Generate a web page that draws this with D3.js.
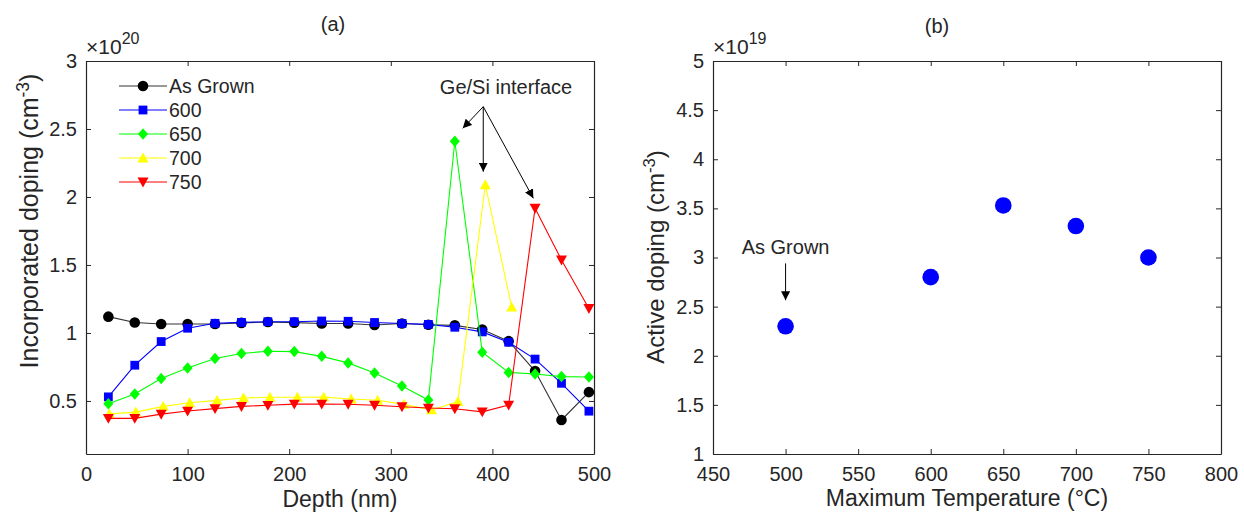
<!DOCTYPE html>
<html>
<head>
<meta charset="utf-8">
<script src="https://cdn.jsdelivr.net/npm/d3@7"></script>
<style>
  body { margin: 0; background: #fff; }
  svg text { font-family: "Liberation Sans", Arial, sans-serif; fill: #262626; }
</style>
</head>
<body>
<svg width="1244" height="514"></svg>
<script>
// Data (a): incorporated doping, units of 1e20 cm^-3
var depth = [22, 48, 74, 100, 127, 153, 179, 205, 232, 258, 284, 311, 337, 363, 390, 416, 442, 468, 495];
var depth700 = [23, 49, 76, 102, 129, 155, 181, 208, 234, 261, 287, 313, 340, 366, 393, 419];
var asGrown = [1.12, 1.077, 1.066, 1.066, 1.066, 1.074, 1.081, 1.076, 1.07, 1.07, 1.059, 1.07, 1.06, 1.056, 1.025, 0.94, 0.72, 0.36, 0.565];
var t600 = [0.53, 0.763, 0.937, 1.035, 1.071, 1.078, 1.083, 1.083, 1.088, 1.086, 1.077, 1.07, 1.063, 1.042, 1.008, 0.932, 0.808, 0.63, 0.425];
var t650 = [0.48, 0.551, 0.665, 0.742, 0.812, 0.849, 0.866, 0.863, 0.828, 0.78, 0.706, 0.61, 0.507, 2.41, 0.859, 0.71, 0.698, 0.679, 0.676];
var t700 = [0.405, 0.418, 0.46, 0.487, 0.504, 0.522, 0.527, 0.527, 0.528, 0.514, 0.505, 0.475, 0.434, 0.495, 2.09, 1.19];
var t750 = [0.372, 0.372, 0.403, 0.426, 0.444, 0.46, 0.468, 0.477, 0.477, 0.476, 0.469, 0.458, 0.448, 0.443, 0.42, 0.47, 1.917, 1.537, 1.18];
var seriesNames = ['As Grown', '600', '650', '700', '750'];
var xTicksA = [0, 100, 200, 300, 400, 500];
var yTicksA = [0.5, 1, 1.5, 2, 2.5, 3];

// Data (b): active doping, units of 1e19 cm^-3
var maxTemp = [500, 600, 650, 700, 750];
var activeDoping = [2.3, 2.8, 3.53, 3.32, 3.0];
var xTicksB = [450, 500, 550, 600, 650, 700, 750, 800];
var yTicksB = [1, 1.5, 2, 2.5, 3, 3.5, 4, 4.5, 5];

var svg = d3.select('svg');
svg.append('rect').attr('width', 1244).attr('height', 514).attr('fill', '#fff');

var defs = svg.append('defs');
defs.append('marker').attr('id', 'arr')
  .attr('viewBox', '0 0 10 10').attr('refX', 10).attr('refY', 5)
  .attr('markerWidth', 9).attr('markerHeight', 9).attr('markerUnits', 'userSpaceOnUse')
  .attr('orient', 'auto')
  .append('path').attr('d', 'M0,0 L10,5 L0,10 z').attr('fill', '#000');

// marker shapes, s = half size in px
var shapes = {
  circle: s => d3.symbol(d3.symbolCircle, Math.PI * s * s)(),
  square: s => 'M' + (-s) + ',' + (-s) + 'H' + s + 'V' + s + 'H' + (-s) + 'Z',
  diamond: s => 'M0,' + (-s * 1.15) + 'L' + s + ',0L0,' + (s * 1.15) + 'L' + (-s) + ',0Z',
  up: s => 'M0,' + (-s) + 'L' + s + ',' + (s * 0.8) + 'L' + (-s) + ',' + (s * 0.8) + 'Z',
  down: s => 'M0,' + s + 'L' + s + ',' + (-s * 0.8) + 'L' + (-s) + ',' + (-s * 0.8) + 'Z'
};

var series = [
  {name: seriesNames[0], x: depth, y: asGrown, color: '#000000', line: '#333', shape: 'circle', s: 5.3},
  {name: seriesNames[1], x: depth, y: t600, color: '#0000ff', line: '#0000ff', shape: 'square', s: 4.4},
  {name: seriesNames[2], x: depth, y: t650, color: '#00ff00', line: '#00ff00', shape: 'diamond', s: 5},
  {name: seriesNames[3], x: depth700, y: t700, color: '#ffff00', line: '#ffff00', shape: 'up', s: 5.5},
  {name: seriesNames[4], x: depth, y: t750, color: '#ff0000', line: '#ff0000', shape: 'down', s: 5.5}
];

function styleAxis(g) {
  g.select('.domain').attr('stroke', '#262626').attr('stroke-width', 1.2);
  g.selectAll('.tick line').attr('stroke', '#262626').attr('stroke-width', 1);
  g.selectAll('.tick text').attr('font-size', '20px').attr('fill', '#262626');
}

function frame(x, y, xt, yt) {
  var r = x.range(), b = y.range();
  var g = svg.append('g');
  g.append('g').attr('transform', 'translate(0,' + b[0] + ')')
    .call(d3.axisBottom(x).tickValues(xt).tickSize(-5).tickSizeOuter(0).tickPadding(13).tickFormat(d => String(d)))
    .call(styleAxis);
  g.append('g').attr('transform', 'translate(0,' + b[1] + ')')
    .call(d3.axisTop(x).tickValues(xt).tickSize(-5).tickSizeOuter(0).tickFormat(''))
    .call(styleAxis);
  g.append('g').attr('transform', 'translate(' + r[0] + ',0)')
    .call(d3.axisLeft(y).tickValues(yt).tickSize(-5).tickSizeOuter(0).tickPadding(9).tickFormat(d => String(d)))
    .call(styleAxis);
  g.append('g').attr('transform', 'translate(' + r[1] + ',0)')
    .call(d3.axisRight(y).tickValues(yt).tickSize(-5).tickSizeOuter(0).tickFormat(''))
    .call(styleAxis);
  g.selectAll('.tick text').attr('font-family', '"Liberation Sans", Arial, sans-serif');
  return g;
}

function exponent(xpos, ypos, p) {
  var t = svg.append('text').attr('x', xpos).attr('y', ypos).attr('font-size', '21px');
  t.append('tspan').text('\u00d710');
  t.append('tspan').attr('dy', -10).attr('font-size', '16px').text(p);
}

function yLabel(cx, cy, main, size) {
  var t = svg.append('text').attr('transform', 'translate(' + cx + ',' + cy + ') rotate(-90)')
    .attr('text-anchor', 'middle').attr('font-size', size + 'px');
  t.append('tspan').text(main + ' (cm');
  t.append('tspan').attr('dy', -9).attr('font-size', (size * 0.7) + 'px').text('-3');
  t.append('tspan').attr('dy', 9).text(')');
}

// ---------- panel (a)
var xA = d3.scaleLinear().domain([0, 500]).range([86, 594]);
var yA = d3.scaleLinear().domain([0.11, 3]).range([454, 61]);
frame(xA, yA, xTicksA, yTicksA);

var line = d3.line();
var plotA = svg.append('g');
series.forEach(function(s) {
  var pts = s.x.map((d, i) => [xA(d), yA(s.y[i])]);
  plotA.append('path').attr('d', line(pts)).attr('fill', 'none')
    .attr('stroke', s.line).attr('stroke-width', 1.1);
  plotA.selectAll(null).data(pts).enter().append('path')
    .attr('transform', d => 'translate(' + d[0] + ',' + d[1] + ')')
    .attr('d', shapes[s.shape](s.s))
    .attr('fill', s.color);
});

// legend
var leg = svg.append('g').attr('transform', 'translate(119,86)');
series.forEach(function(s, i) {
  var row = leg.append('g').attr('transform', 'translate(0,' + (i * 24) + ')');
  row.append('line').attr('x1', 0).attr('x2', 48).attr('stroke', s.line).attr('stroke-width', 1.1);
  row.append('path').attr('transform', 'translate(24,0)').attr('d', shapes[s.shape](s.s)).attr('fill', s.color);
  row.append('text').attr('x', 50).attr('y', 7).attr('font-size', '19.5px').attr('fill', '#000').text(s.name);
});

// Ge/Si interface annotation (data coordinates)
var src = [391, 2.664];
var tips = [[370.8, 2.505], [391, 2.186], [440.3, 1.99]];
svg.append('text').attr('x', xA(413.4)).attr('y', yA(2.76)).attr('text-anchor', 'middle')
  .attr('font-size', '20px').attr('fill', '#000').text('Ge/Si interface');
tips.forEach(function(t) {
  svg.append('line').attr('x1', xA(src[0])).attr('y1', yA(src[1]))
    .attr('x2', xA(t[0])).attr('y2', yA(t[1]))
    .attr('stroke', '#000').attr('stroke-width', 1).attr('marker-end', 'url(#arr)');
});

exponent(86, 54, '20');
svg.append('text').attr('x', xA(250)).attr('y', 507).attr('text-anchor', 'middle').attr('font-size', '23px').text('Depth (nm)');
yLabel(38, 221, 'Incorporated doping', 25);
svg.append('text').attr('x', 333).attr('y', 31).attr('text-anchor', 'middle').attr('font-size', '20px').attr('fill', '#000').text('(a)');

// ---------- panel (b)
var xB = d3.scaleLinear().domain([450, 800]).range([713, 1221]);
var yB = d3.scaleLinear().domain([1, 5]).range([454, 61]);
frame(xB, yB, xTicksB, yTicksB);

svg.append('g').selectAll('circle').data(maxTemp).enter().append('circle')
  .attr('cx', d => xB(d)).attr('cy', (d, i) => yB(activeDoping[i]))
  .attr('r', 8.3).attr('fill', '#0000ff');

svg.append('text').attr('x', xB(500)).attr('y', yB(3.04)).attr('text-anchor', 'middle')
  .attr('font-size', '20px').attr('fill', '#000').text('As Grown');
svg.append('line').attr('x1', xB(500)).attr('y1', yB(2.94)).attr('x2', xB(500)).attr('y2', yB(2.565))
  .attr('stroke', '#000').attr('stroke-width', 1).attr('marker-end', 'url(#arr)');

exponent(713, 54, '19');
svg.append('text').attr('x', xB(625)).attr('y', 506).attr('text-anchor', 'middle').attr('font-size', '23px').text('Maximum Temperature (\u00b0C)');
yLabel(664, 257, 'Active doping', 24);
svg.append('text').attr('x', 937).attr('y', 33).attr('text-anchor', 'middle').attr('font-size', '20px').attr('fill', '#000').text('(b)');
</script>
</body>
</html>
